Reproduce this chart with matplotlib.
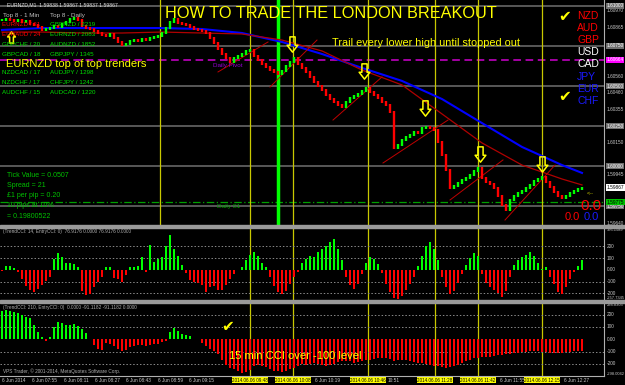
import numpy as np
import matplotlib.pyplot as plt
from matplotlib.path import Path

plt.rcParams['font.family'] = ['Liberation Sans', 'DejaVu Sans']

W, H = 625, 385

# EURNZD M1, one close every second minute
close = [1.60912, 1.60918, 1.60912, 1.60906, 1.60912, 1.60900, 1.60906, 1.60887, 1.60881, 1.60869,
         1.60850, 1.60856, 1.60862, 1.60875, 1.60869, 1.60887, 1.60900, 1.60918, 1.60925, 1.60912,
         1.60875, 1.60862, 1.60856, 1.60844, 1.60831, 1.60819, 1.60812, 1.60825, 1.60800, 1.60775,
         1.60756, 1.60762, 1.60781, 1.60787, 1.60781, 1.60794, 1.60787, 1.60800, 1.60806, 1.60812,
         1.60831, 1.60862, 1.60900, 1.60918, 1.60893, 1.60887, 1.60881, 1.60869, 1.60856, 1.60850,
         1.60844, 1.60831, 1.60800, 1.60769, 1.60731, 1.60700, 1.60675, 1.60650, 1.60675, 1.60688,
         1.60700, 1.60719, 1.60725, 1.60688, 1.60663, 1.60638, 1.60619, 1.60600, 1.60588, 1.60575,
         1.60594, 1.60625, 1.60650, 1.60675, 1.60638, 1.60613, 1.60588, 1.60557, 1.60525, 1.60500,
         1.60475, 1.60444, 1.60419, 1.60401, 1.60382, 1.60369, 1.60401, 1.60425, 1.60438, 1.60450,
         1.60469, 1.60488, 1.60463, 1.60444, 1.60425, 1.60401, 1.60382, 1.60338, 1.60113, 1.60132,
         1.60163, 1.60182, 1.60195, 1.60213, 1.60207, 1.60238, 1.60245, 1.60238, 1.60226, 1.60151,
         1.60070, 1.59976, 1.59864, 1.59876, 1.59895, 1.59914, 1.59926, 1.59945, 1.59970, 1.59989,
         1.59926, 1.59901, 1.59889, 1.59864, 1.59814, 1.59758, 1.59727, 1.59789, 1.59814, 1.59833,
         1.59845, 1.59864, 1.59883, 1.59908, 1.59920, 1.59932, 1.59901, 1.59870, 1.59839, 1.59814,
         1.59801, 1.59814, 1.59833, 1.59845, 1.59858, 1.59867]

ma_idx = [0, 10, 20, 30, 40, 50, 60, 70, 80, 90, 100, 110, 120, 130, 140, 145]
ma_slow = [1.60850, 1.60862, 1.60862, 1.60862, 1.60862, 1.60856, 1.60831, 1.60775, 1.60700, 1.60613,
           1.60532, 1.60419, 1.60269, 1.60120, 1.60007, 1.59958]
ma_fast = [1.60837, 1.60837, 1.60831, 1.60831, 1.60837, 1.60831, 1.60825, 1.60787, 1.60719, 1.60600,
           1.60507, 1.60326, 1.60145, 1.60007, 1.59920, 1.59883]

cci_14 = [-10, 35, 30, 15, -20, -80, -140, -175, -190, -165,
          -130, -95, -60, 90, 145, 110, 60, 60, 45, 25,
          -180, -215, -210, -150, -105, -65, 20, 25, -70, -80,
          -100, -45, 25, 25, 30, 110, -20, 210, 70, 95,
          110, 200, 300, 180, 120, 40, -30, -90, -105, -110,
          -130, -190, -150, -135, -170, -175, -130, -80, -40, -5,
          25, 80, 130, 150, 120, 60, 20, -60, -140, -190,
          -210, -180, -120, -60, -20, 60, 90, 120, 110, 150,
          180, 200, 240, 260, 180, 80, -60, -130, -160, -120,
          -40, 60, 110, 90, 50, -30, -120, -190, -240, -250,
          -220, -170, -120, -60, 30, 120, 200, 240, 180, 80,
          -60, -150, -210, -180, -110, -40, 40, 100, 140, 120,
          -40, -110, -150, -170, -200, -230, -180, -60, 40, 80,
          110, 130, 150, 120, 60, 10, 20, -60, -120, -190,
          -210, -150, -80, -20, 30, 80]

cci_210 = [230, 235, 230, 225, 215, 200, 185, 170, 120, 60,
           20, -10, 15, 100, 140, 130, 120, 120, 125, 110,
           85, 55, 0, -50, -75, -90, -30, -35, -55, -75,
           -95, -85, -65, -55, -45, -45, -55, -45, -40, -35,
           -25, -15, 60, 95, 70, 45, 35, 30, 0, 0,
           -30, -55, -75, -95, -120, -165, -205, -230, -245, -260,
           -270, -265, -250, -220, -210, -215, -225, -240, -255, -260,
           -265, -255, -240, -230, -215, -200, -205, -200, -195, -200,
           -210, -215, -205, -200, -185, -180, -175, -180, -190, -185,
           -175, -170, -165, -160, -155, -150, -155, -160, -175, -170,
           -165, -170, -175, -185, -190, -195, -200, -210, -215, -220,
           -225, -230, -228, -220, -210, -195, -180, -165, -155, -150,
           -145, -140, -140, -135, -130, -125, -120, -120, -115, -110,
           -105, -100, -98, -95, -95, -100, -105, -110, -115, -110,
           -108, -105, -100, -98, -95, -95]

pivot = 1.60664
daily_s1 = 1.59775
level_lines = [1.61000, 1.60750, 1.60500, 1.60250, 1.60000, 1.59750]
event_bars = [62, 72.75, 91.5, 108.25, 119, 135]
event_labels = ['2014.06.06 09:48', '2014.06.06 10:08', '2014.06.06 10:46',
                '2014.06.06 11:28', '2014.06.06 11:42', '2014.06.06 12:15']
early_bar = 39.5
entry_bar = 69
trend_lines = [((54, 1.60588), (66.5, 1.60775)), ((67, 1.60494), (78.75, 1.60787)),
               ((82.75, 1.60288), (95, 1.60557)), ((95.25, 1.60020), (111.5, 1.60288)),
               ((112, 1.59789), (125.25, 1.60039)), ((125.75, 1.59664), (138.25, 1.60007))]
sell_x = [72.5, 90.5, 105.75, 119.5, 135]
sell_y = [1.60762, 1.60594, 1.60363, 1.60076, 1.60014]

# time labels left visible between the highlighted line labels
tick_labels = ['6 Jun 2014', '6 Jun 07:55', '6 Jun 08:11', '6 Jun 08:27', '6 Jun 08:43', '6 Jun 08:59',
               '6 Jun 09:15', '6 Jun 10:19', '10:51', '6 Jun 11:55', '6 Jun 12:27']
tick_pos = [0, 7.5, 15.4, 23.2, 31.1, 38.9, 46.8, 78.2, 96.3, 124.5, 140.6]

top_1min = [('EURNZD / 31', 'red'), ('EURAUD / 24', 'red'), ('GBPCHF / 20', 'lime'), ('GBPCAD / 18', 'lime'),
            ('NZDCAD / 17', 'lime'), ('NZDCHF / 17', 'lime'), ('AUDCHF / 15', 'lime')]
top_daily = ['GBPNZD / 2219', 'EURNZD / 2083', 'AUDNZD / 1852', 'GBPJPY / 1345',
             'AUDJPY / 1298', 'CHFJPY / 1242', 'AUDCAD / 1220']
rows_y = [25, 34.5, 44, 54, 73, 83, 92]
currencies = ['NZD', 'AUD', 'GBP', 'USD', 'CAD', 'JPY', 'EUR', 'CHF']
cur_colors = ['#ff0000'] * 3 + ['#ffffff'] * 2 + ['#1a1aff'] * 3

GREEN, RED, YEL = '#00ff00', '#ff0000', '#ffff00'

fig = plt.figure(figsize=(W / 100, H / 100), dpi=100, facecolor='black')


def px_axes(top, bottom):
    a = fig.add_axes([0, 1 - bottom / H, 604 / W, (bottom - top) / H])
    a.axis('off')
    a.set_xlim(-0.5, 150.5)
    return a


def ptext(x, y, s, **kw):
    kw.setdefault('va', 'center')
    fig.text(x / W, 1 - y / H, s, **kw)


ax = px_axes(0, 225)
ax1 = px_axes(228, 300)
ax2 = px_axes(303, 376)
ax.set_ylim(1.59633, 1.61037)
ax1.set_ylim(-257.7345, 356.1589)
ax2.set_ylim(-298.0042, 294.8303)

# main price panel
for lv in level_lines:
    ax.axhline(lv, color='#707070', lw=1.1, zorder=1)
ax.axhline(pivot, color='#d000d0', lw=1.1, ls=(0, (5, 3)), zorder=1)
ax.axhline(daily_s1, color='#00a000', lw=0.9, ls=(0, (6, 2, 1, 2)), zorder=1)
ax.axvline(early_bar, color='#c8c800', lw=0.9, zorder=1)
ax.axvline(entry_bar, color=GREEN, lw=2.5, zorder=1)
for a in (ax, ax1, ax2):
    for b in event_bars:
        a.axvline(b, color='#c8c800', lw=0.9, zorder=1)

ax.plot(ma_idx, ma_slow, color='#0000ff', lw=1.5, zorder=2)
ax.plot(ma_idx, ma_fast, color='#b00000', lw=0.9, zorder=2)
for (x0, y0), (x1, y1) in trend_lines:
    ax.plot([x0, x1], [y0, y1], color='#c00000', lw=0.7, zorder=2)

c = np.array(close)
o = np.r_[c[0], c[:-1]]
idx = np.arange(len(c))
up = c >= o
hi = np.maximum(o, c) + 0.00006
lo = np.minimum(o, c) - 0.00006
ax.vlines(idx[up], lo[up], hi[up], color=GREEN, lw=1.7, zorder=3)
ax.vlines(idx[~up], lo[~up], hi[~up], color=RED, lw=1.7, zorder=3)

down_arrow = Path([(-0.17, 0.5), (0.17, 0.5), (0.17, -0.05), (0.35, -0.05), (0, -0.5),
                   (-0.35, -0.05), (-0.17, -0.05), (-0.17, 0.5)], closed=True)
up_arrow = Path([(x, -y) for x, y in down_arrow.vertices], closed=True)
ax.plot(sell_x, sell_y, ls='none', marker=down_arrow, ms=11, mfc='none', mec=YEL, mew=1.1, zorder=5)
ax.plot([2.25], [1.60806], ls='none', marker=up_arrow, ms=8, mfc='none', mec=YEL, mew=1.1, zorder=5)

# oscillator panels
for a, vals in ((ax1, cci_14), (ax2, cci_210)):
    v = np.array(vals)
    a.bar(np.arange(len(v)), v, width=0.6, color=np.where(v >= 0, GREEN, RED), zorder=2)
    for lv in (200, 100, -100, -200):
        a.axhline(lv, color='#8a8a8a', lw=0.7, ls=(0, (1.5, 2)), zorder=1)

# frame
for y0 in (225, 300):
    fig.patches.append(plt.Rectangle((0, 1 - (y0 + 3) / H), 1, 3 / H, transform=fig.transFigure,
                                     color='#9a9a9a', zorder=10))
fig.add_artist(plt.Line2D([604 / W, 604 / W], [1 - 376 / H, 1], transform=fig.transFigure, color='#b0b0b0', lw=0.8))
fig.add_artist(plt.Line2D([0, 604 / W], [1 - 376 / H, 1 - 376 / H], transform=fig.transFigure, color='#b0b0b0', lw=0.8))

# price scale
plain = [1.60970, 1.60865, 1.60560, 1.60460, 1.60355, 1.60150, 1.59945, 1.59640]
for p in plain:
    ax.text(1.004, p, f'{p:.5f}', transform=ax.get_yaxis_transform(), color='#c8c8c8',
            fontsize=3.4, va='center', clip_on=False)
boxed = [(lv, '#707070', '#ffffff') for lv in level_lines] + \
        [(pivot, '#ff00ff', '#ffffff'), (close[-1], '#ffffff', '#000000'), (daily_s1, '#00c000', '#000000')]
for p, bg, fg in boxed:
    ax.text(1.004, p, f'{p:.5f}', transform=ax.get_yaxis_transform(), color=fg, fontsize=3.4,
            va='center', clip_on=False, bbox=dict(boxstyle='square,pad=0.15', fc=bg, ec='none'))

for a, top, bot in ((ax1, 356.1589, -257.7345), (ax2, 294.8303, -298.0042)):
    tr = a.get_yaxis_transform()
    for lv in (200, 100, -100, -200):
        a.text(1.004, lv, f'{lv}', transform=tr, color='#c8c8c8', fontsize=3.4, va='center', clip_on=False)
    a.text(1.004, 0, '0.00', transform=tr, color='#c8c8c8', fontsize=3.4, va='center', clip_on=False)
    a.text(1.004, top, f'{top}', transform=tr, color='#c8c8c8', fontsize=2.9, va='top', clip_on=False)
    a.text(1.004, bot, f'{bot}', transform=tr, color='#c8c8c8', fontsize=2.9, va='bottom', clip_on=False)

# time axis
tr = ax2.get_xaxis_transform()
for pos, lab in zip(tick_pos, tick_labels):
    ax2.text(pos, -0.06, lab, transform=tr, color='#c8c8c8', fontsize=3.4, ha='left', va='center', clip_on=False)
for pos, lab in zip(event_bars, event_labels):
    ax2.text(pos, -0.06, lab, transform=tr, color='black', fontsize=3.3, ha='center', va='center',
             clip_on=False, zorder=6, bbox=dict(boxstyle='square,pad=0.12', fc=YEL, ec='none'))

# annotations
ptext(7, 5, 'EURNZD,M1  1.59838 1.59867 1.59837 1.59867', color='#e0e0e0', fontsize=3.7)
ptext(3, 16, 'Top 8 - 1 Min', color='#c0c0c0', fontsize=4.5)
ptext(50, 16, 'Top 8 - Daily', color='#c0c0c0', fontsize=4.5)
for (lab, col), lab2, y in zip(top_1min, top_daily, rows_y):
    ptext(2, y, lab, color=RED if col == 'red' else '#00e000', fontsize=4.5)
    ptext(50, y, lab2, color='#00e000', fontsize=4.5)
ptext(6, 64, 'EURNZD top of top trenders', color=YEL, fontsize=8)
ptext(165, 13, 'HOW TO TRADE THE LONDON BREAKOUT', color=YEL, fontsize=11.7)
ptext(332, 43, 'Trail every lower high until stopped out', color=YEL, fontsize=7.8)
ptext(213, 66, 'Daily Pivot', color='#9400d3', fontsize=4.5)
ptext(217, 207, 'Daily S1', color='#00a000', fontsize=4.5)
for k, (cur, col) in enumerate(zip(currencies, cur_colors)):
    ptext(577, 16 + 12.1 * k, cur, color=col, fontsize=7.5)
for x, y in ((565, 17), (565, 96), (228, 326)):
    ptext(x, y, '\u2714', color=YEL, fontsize=11, ha='center', family='DejaVu Sans')
info = ['Tick Value = 0.0507', 'Spread = 21', '\u00a31 per pip = 0.20', '10 pips at 10%', '= 0.19800522']
for k, s in enumerate(info):
    ptext(7, 176 + 10 * k, s, color='#00c000', fontsize=5)
ptext(587, 193, '<--', color='#c8c800', fontsize=4)
ptext(580, 206, '0.0', color=RED, fontsize=11)
ptext(565, 217, '0.0', color=RED, fontsize=8)
ptext(584, 217, '0.0', color='#1a1aff', fontsize=8)
ptext(3, 232, '(TrendCCI: 14, EntryCCI: 0)  76.9176 0.0000 76.9176 0.0000', color='#b0b0b0', fontsize=3.4)
ptext(3, 308, '(TrendCCI: 210, EntryCCI: 0)  0.0000 -91.1182 -91.1182 0.0000', color='#b0b0b0', fontsize=3.4)
ptext(3, 371, 'VPS Trader, \u00a9 2001-2014, MetaQuotes Software Corp.', color='#b0b0b0', fontsize=3.4)
ptext(229, 356, '15 min CCI over -100 level', color=YEL, fontsize=8)

fig.savefig('out.png', dpi=100, facecolor='black')
